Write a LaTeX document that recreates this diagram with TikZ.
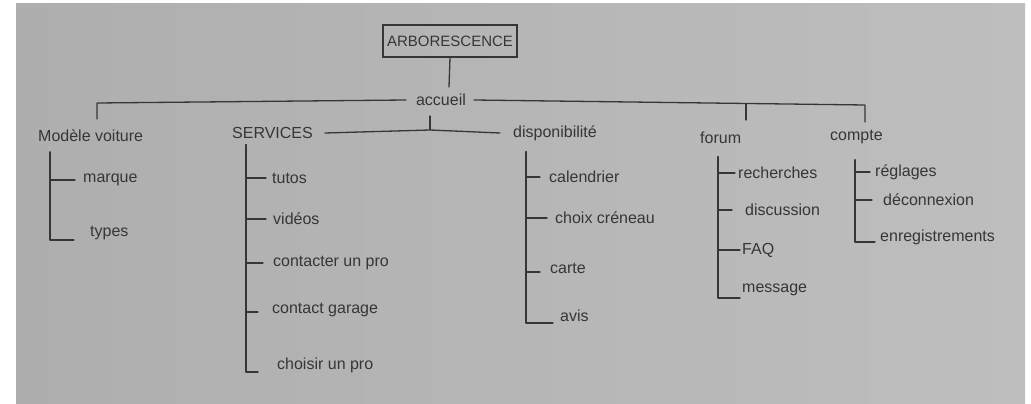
\documentclass[tikz,border=0pt]{standalone}
\usepackage{fontspec}
\setmainfont{Liberation Sans}
\definecolor{ink}{HTML}{363636}
\definecolor{paperL}{HTML}{AEAEAE}
\definecolor{paperR}{HTML}{BEBEBE}
\begin{document}
\begin{tikzpicture}[x=1pt,y=-1pt,
  lbl/.style={inner sep=0pt,anchor=west,text=ink,font=\fontsize{16}{18}\selectfont},
  ln/.style={draw=ink,line width=1.3pt,line cap=round,line join=round},
  boxst/.style={draw=ink,line width=1.3pt,minimum width=134pt,minimum height=32pt,inner sep=2pt,text=ink,font=\fontsize{15}{17}\selectfont}]
\useasboundingbox (0,0) rectangle (1031,404);
\fill[white] (0,0) rectangle (1031,404);
\shade[left color=paperL,right color=paperR] (16,4) rectangle (1025,404);

% root
\node[boxst] (root) at (450,41) {ARBORESCENCE};
\node[lbl,anchor=center] (acc) at (441,100) {accueil};
\draw[ln] (root.south) -- (449,87) coordinate (accTop);

% first level
\node[lbl] (mv) at (38,136) {Modèle voiture};
\node[lbl] (srv) at (232,133) {SERVICES};
\node[lbl] (dis) at (513,133) {disponibilité};
\node[lbl] (for) at (700,138) {forum};
\node[lbl] (cpt) at (830,137) {compte};

% links from accueil
\coordinate (hl) at (97,103);
\coordinate (hr) at (865,105);
\draw[ln] ([xshift=-10pt]acc.west) -- (hl) -- (97,119);
\draw[ln] ([xshift=8pt]acc.east) -- (hr) -- (865,122);
\draw[ln] (746,104) -- (746,120);
\coordinate (mid) at (430,130);
\draw[ln] (430,116) -- (mid);
\draw[ln] ([xshift=12pt]srv.east) -- (mid) -- ([xshift=-13pt]dis.west);

% Modèle voiture
\node[lbl] (marque) at (83,180) {marque};
\node[lbl] (types) at (90,233) {types};
\coordinate (mvs) at (50,152);
\draw[ln] (mvs) |- ([xshift=-8pt]marque.west);
\draw[ln] (mvs) |- (74,240);

% SERVICES
\node[lbl] (tutos) at (272,178) {tutos};
\node[lbl] (videos) at (273,219) {vidéos};
\node[lbl] (cpro) at (273,263) {contacter un pro};
\node[lbl] (cgar) at (272,310) {contact garage};
\node[lbl] (chpro) at (277,365) {choisir un pro};
\coordinate (svs) at (246,145);
\draw[ln] (svs) |- ([xshift=-6pt]tutos.west);
\draw[ln] (svs) |- ([xshift=-7pt]videos.west);
\draw[ln] (svs) |- ([xshift=-10pt]cpro.west);
\draw[ln] (svs) |- (258,312);
\draw[ln] (svs) |- (258,372);

% disponibilite
\node[lbl] (cal) at (549,177) {calendrier};
\node[lbl] (cren) at (555,218) {choix créneau};
\node[lbl] (carte) at (550,268) {carte};
\node[lbl] (avis) at (560,316) {avis};
\coordinate (dss) at (526,152);
\draw[ln] (dss) |- ([xshift=-9pt]cal.west);
\draw[ln] (dss) |- ([xshift=-8pt]cren.west);
\draw[ln] (dss) |- (540,272);
\draw[ln] (dss) |- (553,323);

% forum
\node[lbl] (rech) at (738,173) {recherches};
\node[lbl] (disc) at (745,210) {discussion};
\node[lbl] (faq) at (742,250) {FAQ};
\node[lbl] (msg) at (742,290) {message};
\coordinate (fss) at (718,157);
\draw[ln] (fss) |- ([xshift=-3pt]rech.west);
\draw[ln] (fss) |- (732,210);
\draw[ln] (fss) |- ([xshift=-2pt]faq.west);
\draw[ln] (fss) |- (740,298);

% compte
\node[lbl] (regl) at (875,172) {réglages};
\node[lbl] (deco) at (883,200) {déconnexion};
\node[lbl] (enreg) at (880,237) {enregistrements};
\coordinate (css) at (855,160);
\draw[ln] (css) |- ([xshift=-5pt]regl.west);
\draw[ln] (css) |- (872,200);
\draw[ln] (css) |- (875,242);
\end{tikzpicture}
\end{document}
